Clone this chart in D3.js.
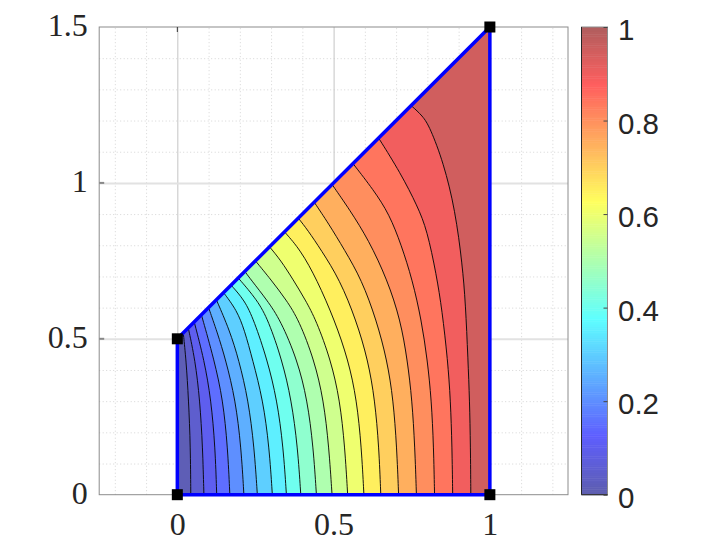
<!DOCTYPE html>
<html>
<head>
<meta charset="utf-8">
<script src="https://d3js.org/d3.v7.min.js"></script>
<style>
  body { margin: 0; background: #fff; }
  svg { display: block; }
</style>
</head>
<body>
<div id="elements"></div>
<script>
// Outline of the domain and its corner nodes
const outline = [[0, 0], [1, 0], [1, 1.5], [0, 0.5]];

const xTicks = [0, 0.5, 1];
const yTicks = [0, 0.5, 1, 1.5];
const xMinor = [-0.2, -0.1, 0.1, 0.2, 0.3, 0.4, 0.6, 0.7, 0.8, 0.9, 1.1, 1.2];
const yMinor = [0.1, 0.2, 0.3, 0.4, 0.6, 0.7, 0.8, 0.9, 1.1, 1.2, 1.3, 1.4];
const barTicks = [0, 0.2, 0.4, 0.6, 0.8, 1];

// jet colormap
const jetStops = [0, 0.125, 0.375, 0.625, 0.875, 1];
const jetColors = ["#00007f", "#0000ff", "#00ffff", "#ffff00", "#ff0000", "#7f0000"];

// Contours, bottom edge up to the slanted edge, levels 0.05 ... 0.95
const c05 = [[.043, 0], [.042, .153], [.036, .304], [.028, .432], [.019, .519]];
const c10 = [[.085, 0], [.081, .153], [.072, .304], [.057, .432], [.035, .535]];
const c15 = [[.126, 0], [.121, .153], [.108, .304], [.086, .432], [.054, .554]];
const c20 = [[.168, 0], [.161, .153], [.146, .304], [.118, .432], [.077, .577]];
const c25 = [[.213, 0], [.204, .153], [.186, .304], [.155, .432], [.128, .520], [.100, .600]];
const c30 = [[.256, 0], [.246, .153], [.227, .304], [.197, .432], [.167, .528], [.125, .625]];
const c35 = [[.304, 0], [.294, .153], [.274, .304], [.241, .432], [.215, .528], [.190, .592], [.148, .648]];
const c40 = [[.349, 0], [.339, .153], [.319, .304], [.288, .432], [.245, .560], [.215, .624], [.172, .672]];
const c45 = [[.395, 0], [.385, .153], [.365, .304], [.335, .432], [.291, .560], [.256, .624], [.195, .695]];
const c50 = [[.445, 0], [.435, .153], [.416, .304], [.384, .432], [.330, .560], [.287, .624], [.236, .689], [.216, .716]];
const c55 = [[.495, 0], [.485, .153], [.468, .304], [.438, .432], [.389, .560], [.349, .624], [.300, .689], [.250, .750]];
const c60 = [[.545, 0], [.536, .153], [.520, .304], [.491, .432], [.444, .560], [.410, .624], [.371, .689], [.330, .753], [.295, .795]];
const c65 = [[.597, 0], [.589, .153], [.574, .304], [.547, .432], [.503, .560], [.447, .689], [.394, .785], [.343, .843]];
const c70 = [[.651, 0], [.645, .153], [.632, .304], [.610, .432], [.572, .560], [.520, .689], [.460, .785], [.417, .849], [.387, .887]];
const c75 = [[.708, 0], [.702, .153], [.691, .304], [.671, .432], [.637, .560], [.590, .689], [.535, .785], [.483, .871], [.438, .938]];
const c80 = [[.765, 0], [.760, .153], [.751, .304], [.736, .432], [.714, .560], [.672, .689], [.612, .817], [.552, .913], [.495, .995]];
const c85 = [[.823, 0], [.820, .153], [.813, .304], [.800, .432], [.781, .560], [.752, .689], [.717, .800], [.678, .900], [.628, .977], [.562, 1.062]];
const c90 = [[.881, 0], [.879, .153], [.874, .304], [.865, .432], [.847, .592], [.829, .705], [.799, .849], [.769, .924], [.714, 1.032], [.644, 1.144]];
const c95 = [[.939, 0], [.938, .153], [.935, .304], [.930, .432], [.922, .615], [.912, .737], [.889, .913], [.852, 1.064], [.808, 1.179], [.785, 1.215], [.748, 1.248]];

const contourLines = [c05, c10, c15, c20, c25, c30, c35, c40, c45, c50, c55, c60, c65, c70, c75, c80, c85, c90, c95];
// Colour value of each band between two contours
const bandValues = [0.012, 0.05, 0.1, 0.15, 0.2, 0.25, 0.3, 0.35, 0.4, 0.45, 0.5, 0.55, 0.6, 0.65, 0.7, 0.75, 0.8, 0.84, 0.895, 0.947];

const svg_width = 720, svg_height = 553;
const fillAlpha = 0.63;

const svg = d3.create("svg").attr("width", svg_width).attr("height", svg_height);
document.getElementById("elements").appendChild(svg.node());

const x = d3.scaleLinear().domain([-0.25, 1.25]).range([99.2, 568]);
const y = d3.scaleLinear().domain([0, 1.5]).range([494.7, 27]);
const [plotLeft, plotRight] = x.range();
const [plotBottom, plotTop] = y.range();

const jet = d3.scaleLinear().domain(jetStops).range(jetColors).interpolate(d3.interpolateRgb);
const washed = (v) => d3.interpolateRgb("#fff", jet(v))(fillAlpha);

// Grid
const minorX = svg.append("g").attr("transform", `translate(0,${plotBottom})`)
  .call(d3.axisBottom(x).tickValues(xMinor).tickSize(-(plotBottom - plotTop)).tickFormat(""));
const minorY = svg.append("g").attr("transform", `translate(${plotLeft},0)`)
  .call(d3.axisLeft(y).tickValues(yMinor).tickSize(-(plotRight - plotLeft)).tickFormat(""));
for (const g of [minorX, minorY]) {
  g.select(".domain").remove();
  g.selectAll("line").attr("stroke", "#d5d5d5").attr("stroke-dasharray", "1,2.5");
}

const majorX = svg.append("g").attr("transform", `translate(0,${plotBottom})`)
  .call(d3.axisBottom(x).tickValues([0.5, 0]).tickSize(-(plotBottom - plotTop)).tickFormat(""));
majorX.select(".domain").remove();
majorX.selectAll("line").attr("stroke", "#c4c4c4");

const majorY = svg.append("g").attr("transform", `translate(${plotLeft},0)`)
  .call(d3.axisLeft(y).tickValues([0.5, 1]).tickSize(-(plotRight - plotLeft)).tickFormat(""));
majorY.select(".domain").remove();
majorY.selectAll("line").attr("stroke", "#e2e2e2").attr("stroke-width", 2);

// Box
svg.append("rect")
  .attr("x", plotLeft).attr("y", plotTop)
  .attr("width", plotRight - plotLeft).attr("height", plotBottom - plotTop)
  .attr("fill", "none").attr("stroke", "#8c8c8c");

// Filled bands
const line = d3.line().x((d) => x(d[0])).y((d) => y(d[1])).curve(d3.curveBasis);
const reversedTail = (c) => "L" + line(c.slice().reverse()).slice(1);
const bands = bandValues.map((value, i) => {
  if (i === 0) {
    return { value, d: "M" + x(0) + "," + y(0) + "L" + x(0) + "," + y(0.5) + reversedTail(contourLines[0]) + "Z" };
  }
  if (i === bandValues.length - 1) {
    return { value, d: line(contourLines[i - 1]) + "L" + x(1) + "," + y(1.5) + "L" + x(1) + "," + y(0) + "Z" };
  }
  return { value, d: line(contourLines[i - 1]) + reversedTail(contourLines[i]) + "Z" };
});

svg.append("g").selectAll("path").data(bands).join("path")
  .attr("d", (d) => d.d)
  .attr("fill", (d) => washed(d.value))
  .attr("stroke", (d) => washed(d.value))
  .attr("stroke-width", 0.5);

svg.append("g").selectAll("path").data(contourLines).join("path")
  .attr("d", line)
  .attr("fill", "none")
  .attr("stroke", "#000")
  .attr("stroke-width", 0.9);

// Boundary and nodes
const outlinePath = d3.line().x((d) => x(d[0])).y((d) => y(d[1]));
svg.append("path")
  .attr("d", outlinePath(outline) + "Z")
  .attr("fill", "none")
  .attr("stroke", "#0000ff")
  .attr("stroke-width", 3.5);

svg.append("g").selectAll("rect").data(outline).join("rect")
  .attr("x", (d) => x(d[0]) - 5.5)
  .attr("y", (d) => y(d[1]) - 5.5)
  .attr("width", 11)
  .attr("height", 11)
  .attr("fill", "#000");

// Tick labels
const xAxis = svg.append("g").attr("transform", `translate(0,${plotBottom})`)
  .call(d3.axisBottom(x).tickValues(xTicks).tickSize(0).tickFormat(d3.format("")));
const yAxis = svg.append("g").attr("transform", `translate(${plotLeft},0)`)
  .call(d3.axisLeft(y).tickValues(yTicks).tickSize(0).tickFormat(d3.format("")));
for (const g of [xAxis, yAxis]) {
  g.select(".domain").remove();
  g.selectAll("text")
    .attr("font-family", "'Liberation Serif', serif")
    .attr("font-size", 32)
    .attr("fill", "#262626");
}
xAxis.selectAll("text").attr("y", 40).attr("dy", 0);
yAxis.selectAll("text").attr("x", -11.5).attr("dy", 0).attr("y", 8.5);
// small ticks on the box
svg.append("g").selectAll("line").data(yTicks.slice(1, 3)).join("line")
  .attr("x1", plotLeft).attr("x2", plotLeft + 5)
  .attr("y1", (d) => y(d)).attr("y2", (d) => y(d))
  .attr("stroke", "#888").attr("stroke-width", 2);
svg.append("line")
  .attr("x1", x(0)).attr("x2", x(0))
  .attr("y1", plotTop).attr("y2", plotTop + 5)
  .attr("stroke", "#333");

// Colorbar
const barX = 581.5, barW = 26;
const barY = d3.scaleLinear().domain([0, 1]).range([plotBottom, plotTop]);
const barSteps = d3.range(0, 1, 1 / 256);
svg.append("g").selectAll("rect").data(barSteps).join("rect")
  .attr("x", barX)
  .attr("width", barW)
  .attr("y", (d) => barY(d + 1 / 256))
  .attr("height", (plotBottom - plotTop) / 256 + 0.5)
  .attr("fill", (d) => washed(d));

svg.append("rect")
  .attr("x", barX).attr("y", plotTop)
  .attr("width", barW).attr("height", plotBottom - plotTop)
  .attr("fill", "none").attr("stroke", "#8c8c8c");
svg.append("line")
  .attr("x1", barX).attr("x2", barX)
  .attr("y1", plotTop).attr("y2", plotBottom)
  .attr("stroke", "#262626");
svg.append("line")
  .attr("x1", barX).attr("x2", barX + barW)
  .attr("y1", plotBottom).attr("y2", plotBottom)
  .attr("stroke", "#262626");

const barAxis = svg.append("g").attr("transform", `translate(${barX + barW},0)`)
  .call(d3.axisRight(barY).tickValues(barTicks).tickSize(-4).tickFormat(d3.format("")));
barAxis.select(".domain").remove();
barAxis.selectAll("line").attr("stroke", "#444");
barAxis.selectAll("text")
  .attr("font-family", "'Liberation Sans', sans-serif")
  .attr("font-size", 29.5)
  .attr("fill", "#262626")
  .attr("x", 10.5)
  .attr("dy", 0)
  .attr("y", 12.7);
</script>
</body>
</html>
